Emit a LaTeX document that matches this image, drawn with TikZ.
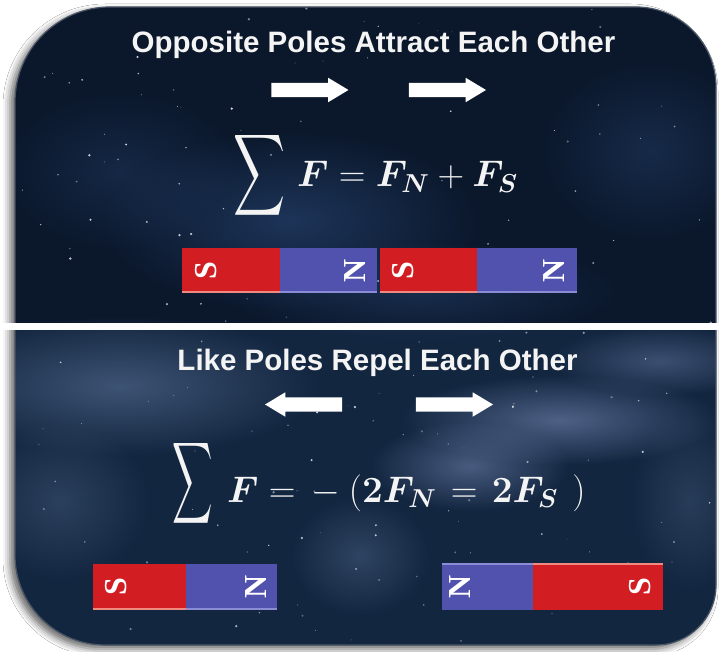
\RequirePackage{fix-cm}
\documentclass[tikz,border=0pt]{standalone}
\usepackage{fontspec}
\setmainfont{Liberation Sans}
\newfontfamily\magfont{Liberation Serif}
\usepackage{bm}
\usetikzlibrary{fadings,shadows.blur,shapes.arrows}
\definecolor{bgtop}{HTML}{0B182C}
\definecolor{bgbot}{HTML}{132640}
\definecolor{glowA}{HTML}{2C4C7E}
\definecolor{glowB}{HTML}{5A7296}
\definecolor{glowC}{HTML}{8A9CCC}
\definecolor{magred}{HTML}{D21E22}
\definecolor{magblue}{HTML}{5151AE}
\definecolor{stripred}{HTML}{F08A80}
\definecolor{stripblue}{HTML}{8C8CD6}
\definecolor{rimcol}{HTML}{4A5666}
\definecolor{txt}{HTML}{F4F4F4}
\tikzfading[name=glow, inner color=transparent!0, outer color=transparent!100]
\def\panelpath{(15,549) arc[start angle=180,end angle=90,radius=95] -- (636,644) arc[start angle=90,end angle=0,radius=80] -- (716,66) arc[start angle=0,end angle=-90,radius=60] -- (105,6) arc[start angle=-90,end angle=-180,radius=90] -- cycle}
\begin{document}
\begin{tikzpicture}[x=1pt,y=1pt,
  title/.style={text=txt, font=\bfseries\fontsize{29.5}{32}\selectfont, inner sep=0pt, anchor=base},
  formula/.style={text=txt, font=\fontsize{37}{40}\selectfont, inner sep=0pt, anchor=base west},
  sigmanode/.style={text=txt, inner sep=0pt},
  blockarrow/.style={single arrow, fill=white, draw=none, minimum height=77pt,
     inner xsep=0pt, inner ysep=7pt, text height=0pt, text depth=0pt,
     single arrow head extend=5pt, single arrow tip angle=62},
  redpart/.style={fill=magred},
  bluepart/.style={fill=magblue},
  pole/.style={text=white, font=\magfont\bfseries\fontsize{32}{32}\selectfont, rotate=90, inner sep=0pt},
  glowfill/.style={path fading=glow}
]
\useasboundingbox (0,0) rectangle (719,651);
\fill[white] (0,0) rectangle (719,651);
% panel with shadow
\fill[bgtop, blur shadow={shadow xshift=-5pt, shadow yshift=-4pt, shadow blur radius=7pt, shadow opacity=60}] \panelpath;
\begin{scope}
  \clip \panelpath;
  \fill[bgbot] (0,0) rectangle (719,325);
  % upper half glows
  \fill[glowA, opacity=.55, glowfill] (290,430) ellipse (190 and 90);
  \fill[glowA, opacity=.30, glowfill] (120,480) ellipse (120 and 80);
  \fill[glowA, opacity=.35, glowfill] (650,500) ellipse (110 and 90);
  \fill[glowA, opacity=.4, glowfill] (420,360) ellipse (200 and 50);
  % lower half glows
  \fill[glowB, opacity=.6, glowfill] (120,265) ellipse (200 and 70);
  \fill[glowB, opacity=.35, glowfill] (60,150) ellipse (90 and 80);
  \fill[glowC, opacity=.5, glowfill] (560,231) ellipse (160 and 45);
  \fill[glowC, opacity=.45, glowfill] (470,185) ellipse (100 and 45);
  \fill[glowC, opacity=.35, glowfill] (660,290) ellipse (110 and 35);
  \fill[glowB, opacity=.40, glowfill] (360,95) ellipse (70 and 60);
  \fill[glowB, opacity=.30, glowfill] (690,150) ellipse (60 and 90);
  % stars
  \pgfmathsetseed{7}
  \foreach \i in {1,...,170}{
    \pgfmathsetmacro\sx{rnd*719}
    \pgfmathsetmacro\sy{rnd*651}
    \pgfmathsetmacro\sr{0.4+rnd*0.9}
    \pgfmathsetmacro\so{0.25+rnd*0.6}
    \fill[white, opacity=\so] (\sx,\sy) circle (\sr);
  }
\end{scope}
\draw[rimcol, line width=1.2pt] \panelpath;
% divider
\fill[white] (0,321) rectangle (719,328);

% titles
\node[title] (t1) at (373.5,598) {Opposite Poles Attract Each Other};
\node[title] (t2) at (377.5,281) {Like Poles Repel Each Other};

% arrows
\node[blockarrow] (a1) at (304,561) {};
\node[blockarrow] (a2) at (441.5,561) {};
\node[blockarrow, shape border rotate=180] (a3) at (309.5,246.5) {};
\node[blockarrow] (a4) at (448.5,246.5) {};

% formulas
\node[sigmanode] (s1) at (259,476) {\scalebox{3.6}[5.7]{$\displaystyle\sum$}};
\node[formula] (f1) at (297,464) {$\bm{F} = \bm{F}_{\bm{N}} + \bm{F}_{\bm{S}}$};
\node[sigmanode] (s2) at (193,168) {\scalebox{2.8}[5.7]{$\displaystyle\sum$}};
\node[formula] (f2) at (227,149) {$\bm{F} = \mskip3mu -\mskip4mu(\bm{2F}_{\bm{N}} \mskip2mu = \mskip2mu \bm{2F}_{\bm{S}}\mskip7mu)$};

% top magnets
\fill[redpart] (182,358) rectangle (280,403);
\fill[bluepart] (280,358) rectangle (377,403);
\fill[stripred] (182,358) rectangle (280,360);
\fill[stripblue] (280,358) rectangle (377,360);
\node[pole] (m1s) at (206,380.5) {S};
\node[pole] (m1n) at (355,380.5) {N};
\fill[redpart] (380,358) rectangle (477,403);
\fill[bluepart] (477,358) rectangle (577,403);
\fill[stripred] (380,358) rectangle (477,360);
\fill[stripblue] (477,358) rectangle (577,360);
\node[pole] (m2s) at (403,380.5) {S};
\node[pole] (m2n) at (554,380.5) {N};

% bottom magnets
\fill[redpart] (93,41) rectangle (186,87);
\fill[bluepart] (186,41) rectangle (277,87);
\fill[stripred] (93,41) rectangle (186,43);
\fill[stripblue] (186,41) rectangle (277,43);
\node[pole] (m3s) at (116,64) {S};
\node[pole] (m3n) at (256,64) {N};
\fill[bluepart] (442,41) rectangle (533,88);
\fill[redpart] (533,41) rectangle (663,88);
\fill[stripblue] (442,86) rectangle (533,88);
\fill[stripred] (533,86) rectangle (663,88);
\node[pole] (m4n) at (460,64.5) {N};
\node[pole] (m4s) at (640,64.5) {S};
\end{tikzpicture}
\end{document}
